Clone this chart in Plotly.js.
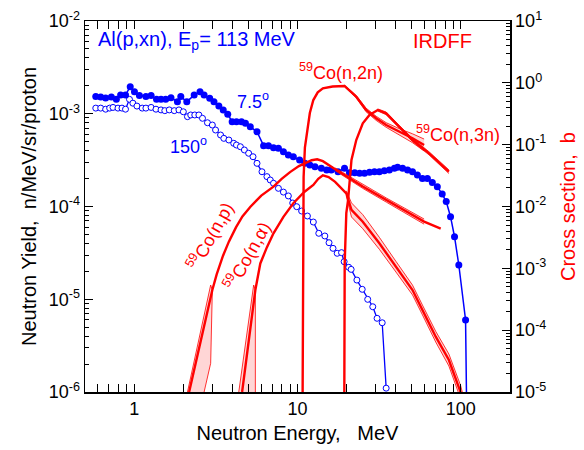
<!DOCTYPE html>
<html><head><meta charset="utf-8">
<script src="https://cdn.plot.ly/plotly-3.0.1.min.js"></script>
<style>html,body{margin:0;padding:0;background:#fff}</style>
</head><body><div id="chart" style="width:584px;height:450px"></div>
<script>
// Al(p,xn), Ep = 113 MeV, 7.5 deg (filled) : energy (MeV), yield (n/MeV/sr/proton)
const e75 = [0.582,0.624,0.669,0.725,0.778,0.826,0.885,0.946,1.004,1.077,1.18,1.27,1.37,1.46,1.56,1.68,1.84,1.93,2.10,2.33,2.53,2.68,2.90,3.08,3.30,3.51,3.74,3.98,4.23,4.54,4.80,5.14,5.65,6.20,6.64,7.13,7.64,8.20,8.79,9.43,10.3,11.1,11.9,12.8,14.0,15.1,16.1,17.7,19.4,20.8,22.4,24.0,25.7,27.6,29.6,31.7,34.0,36.5,39.2,41.0,44.0,47.2,50.6,54.2,58.2,62.4,66.9,71.8,76.9,81.4,86.5,91.5,97.2,106.9,110];
const y75 = [1.53e-3,1.52e-3,1.48e-3,1.52e-3,1.43e-3,1.59e-3,1.59e-3,1.96e-3,1.73e-3,1.57e-3,1.53e-3,1.57e-3,1.43e-3,1.43e-3,1.43e-3,1.49e-3,1.35e-3,1.53e-3,1.35e-3,1.59e-3,1.73e-3,1.59e-3,1.47e-3,1.35e-3,1.21e-3,1.10e-3,9.87e-4,8.2e-4,8.2e-4,8.2e-4,7.89e-4,7.25e-4,6.4e-4,4.53e-4,4.53e-4,4.31e-4,4.24e-4,3.90e-4,3.59e-4,3.44e-4,3.17e-4,2.92e-4,2.80e-4,2.69e-4,2.58e-4,2.47e-4,2.47e-4,2.37e-4,2.58e-4,2.31e-4,2.31e-4,2.28e-4,2.28e-4,2.34e-4,2.37e-4,2.37e-4,2.43e-4,2.47e-4,2.58e-4,2.65e-4,2.58e-4,2.47e-4,2.37e-4,2.19e-4,2.01e-4,2.01e-4,1.82e-4,1.63e-4,1.36e-4,1.13e-4,7.76e-5,4.72e-5,2.34e-5,5.97e-6,1e-7];
// 150 deg (open)
const e150 = [0.582,0.624,0.669,0.708,0.742,0.796,0.842,0.885,0.936,0.982,1.04,1.12,1.18,1.27,1.36,1.46,1.54,1.64,1.76,1.88,2.00,2.12,2.22,2.35,2.49,2.62,2.81,3.01,3.15,3.38,3.54,3.80,4.07,4.23,4.47,4.73,5.02,5.34,5.65,6.06,6.50,6.81,7.13,7.64,8.20,8.79,9.35,9.89,10.6,11.5,12.5,13.5,14.7,15.6,16.5,17.5,18.6,19.3,20.6,21.3,23.1,24.9,26.9,28.9,30.7,33.0,34.9];
const y150 = [1.15e-3,1.15e-3,1.12e-3,1.15e-3,1.17e-3,1.15e-3,1.15e-3,1.12e-3,1.43e-3,1.30e-3,1.21e-3,1.15e-3,1.15e-3,1.17e-3,1.12e-3,1.10e-3,1.08e-3,1.10e-3,1.08e-3,1.10e-3,1.05e-3,9.3e-4,9.7e-4,9.7e-4,9.7e-4,8.93e-4,8.0e-4,7.56e-4,6.68e-4,5.90e-4,5.43e-4,5.21e-4,4.80e-4,4.60e-4,4.41e-4,4.07e-4,3.75e-4,3.44e-4,2.92e-4,2.37e-4,2.10e-4,1.93e-4,1.78e-4,1.57e-4,1.43e-4,1.30e-4,1.09e-4,9.95e-5,8.94e-5,7.9e-5,6.8e-5,5.14e-5,4.81e-5,4.07e-5,3.54e-5,3.13e-5,3.18e-5,2.54e-5,2.21e-5,2.10e-5,1.61e-5,1.28e-5,9.98e-6,8.3e-6,6.23e-6,5.58e-6,1.10e-6];

// IRDFF cross sections (b); U = relative uncertainty (0 = no band drawn)
const n2nE = [10.75,10.8,10.9,11.1,11.4,11.9,12.5,13.3,14.3,16.4,19.4,22.9,26.3,30.3,34.9,42.0,50.6,59.6];
const n2nS = [1e-5,3e-3,0.03,0.09,0.153,0.325,0.527,0.70,0.815,0.873,0.89,0.597,0.364,0.267,0.208,0.162,0.127,0.0986];
const n2nU = [0,0,0,0,0,0,0,0,0,0,0.03,0.05,0.07,0.08,0.09,0.12,0.18,0.25];

const n3nE = [19.35,19.45,19.9,20.4,21.4,22.9,25.1,27.6,31.0,34.9,42.0,50.6,63.9,84.5];
const n3nS = [1e-5,1.2e-3,7.8e-3,0.0127,0.0565,0.119,0.221,0.302,0.364,0.321,0.195,0.119,0.0724,0.0366];
const n3nU = [0,0,0,0,0,0,0,0,0.04,0.05,0.05,0.06,0.06,0.07];

const npE = [2.17,2.55,3.01,3.2,3.5,3.8,4.2,4.6,5.15,6.0,7.13,8.0,9.0,10.2,11.4,12.2,13.2,14.3,17.0,19.9,25.1,35.0,45.0,59.6,75.3];
const npS = [1e-5,6.5e-5,4.46e-4,8.0e-4,1.6e-3,2.7e-3,4.6e-3,6.9e-3,9.9e-3,1.5e-2,0.0209,0.028,0.036,0.045,0.0519,0.056,0.058,0.054,0.040,0.031,0.021,0.0127,8.7e-3,5.7e-3,4.4e-3];
const npU = [0,0,0,0,0,0,0,0,0,0,0,0,0,0,0,0,0,0,0.05,0.06,0.07,0.08,0.09,0.10,0];
const npThrE = [2.12,2.94,3.01,2.94,2.68];
const npThrS = [1e-5,5.37e-4,4.46e-4,2.91e-5,1e-5];

const naE = [4.58,5.02,5.52,5.92,6.5,7.13,8.2,9.43,11.0,12.5,13.4,14.3,15.5,17.0,19.9,21.4,25.1,31.7,40.1,50.6,58.2,70.2,84.5,99.6,103];
const naS = [1e-5,6.7e-5,4.46e-4,1.2e-3,2.2e-3,3.68e-3,6.8e-3,0.0113,0.0172,0.0223,0.028,0.032,0.030,0.025,0.0163,0.0088,5.68e-3,2.54e-3,1.06e-3,4.46e-4,2.12e-4,7.84e-5,3.29e-5,1e-5,7e-6];
const naU = [0,0,0,0,0,0,0,0,0,0,0,0,0,0,0.1,0.3,0.3,0.25,0.22,0.2,0.2,0.22,0.25,0.28,0.3];
const naThrE = [4.37,5.39,5.52,5.52];
const naThrS = [1e-5,5.37e-4,4.46e-4,1e-5];

// tick labels
const xTickVals = [1,10,100], xTickText = ['1','10','100'];
const yTickVals = [1e-6,1e-5,1e-4,1e-3,1e-2];
const yTickText = ['10<sup>-6</sup>','10<sup>-5</sup>','10<sup>-4</sup>','10<sup>-3</sup>','10<sup>-2</sup>'];
const y2TickVals = [1e-5,1e-4,1e-3,1e-2,1e-1,1,10];
const y2TickText = ['10<sup>-5</sup>','10<sup>-4</sup>','10<sup>-3</sup>','10<sup>-2</sup>','10<sup>-1</sup>','10<sup>0</sup>','10<sup>1</sup>'];

const RED = '#ff0000', BLUE = '#0000ff', PINK = 'rgba(255,0,0,0.16)';
const traces = [];
traces.push({x:e150, y:y150, mode:'lines+markers', line:{color:BLUE, width:1.3},
  marker:{symbol:'circle', size:6, color:'#ffffff', line:{color:BLUE, width:1}}, yaxis:'y', hoverinfo:'skip'});
traces.push({x:e75, y:y75, mode:'lines+markers', line:{color:BLUE, width:1.5},
  marker:{symbol:'circle', size:7, color:BLUE}, yaxis:'y', hoverinfo:'skip'});

function band(E, S, U) {
  const bx = [], lo = [], hi = [];
  for (let i = 0; i < E.length; i++) if (U[i] > 0) { bx.push(E[i]); lo.push(S[i]/(1+U[i])); hi.push(S[i]*(1+U[i])); }
  traces.push({x:bx, y:lo, mode:'lines', line:{color:RED, width:0.8}, yaxis:'y2', hoverinfo:'skip'});
  traces.push({x:bx, y:hi, mode:'lines', fill:'tonexty', fillcolor:PINK, line:{color:RED, width:0.8}, yaxis:'y2', hoverinfo:'skip'});
}
function poly(E, S) {
  traces.push({x:E, y:S, mode:'lines', fill:'toself', fillcolor:PINK, line:{color:RED, width:0.8}, yaxis:'y2', hoverinfo:'skip'});
}
function main(E, S) {
  traces.push({x:E, y:S, mode:'lines', line:{color:RED, width:2.4}, yaxis:'y2', hoverinfo:'skip'});
}
poly(npThrE, npThrS); poly(naThrE, naThrS);
band(n2nE, n2nS, n2nU); band(n3nE, n3nS, n3nU); band(npE, npS, npU); band(naE, naS, naU);
main(n2nE, n2nS); main(n3nE, n3nS); main(npE, npS); main(naE, naS);

function minorVals(a, b) { const v = []; for (let d = a; d <= b; d++) for (let k = 2; k <= 9; k++) v.push(k*Math.pow(10, d)); return v; }
const FONT = 'Arial, "Liberation Sans", sans-serif';
const ax = {showline:true, linecolor:'#000', linewidth:1.5, ticks:'inside', ticklen:8, tickwidth:1, tickcolor:'#000',
  showgrid:false, zeroline:false, tickfont:{family:FONT, size:18, color:'#000'}, tickmode:'array'};
const layout = {
  width:584, height:450, margin:{l:85, r:74, t:21, b:58}, showlegend:false,
  paper_bgcolor:'#fff', plot_bgcolor:'#fff', font:{family:FONT},
  xaxis:Object.assign({}, ax, {type:'log', range:[Math.log10(0.5), Math.log10(200)], mirror:'allticks',
    tickvals:xTickVals, ticktext:xTickText,
    minor:{tickmode:'array', tickvals:minorVals(-1,2), ticks:'inside', ticklen:4, tickcolor:'#000', showgrid:false},
    title:{text:'Neutron Energy,\u00a0\u00a0\u00a0MeV', font:{family:FONT, size:20, color:'#000'}, standoff:8}}),
  yaxis:Object.assign({}, ax, {type:'log', range:[-6,-2], tickvals:yTickVals, ticktext:yTickText,
    minor:{tickmode:'array', tickvals:minorVals(-6,-3), ticks:'inside', ticklen:4, tickcolor:'#000', showgrid:false},
    title:{text:'Neutron Yield,\u00a0\u00a0n/MeV/sr/proton', font:{family:FONT, size:20, color:'#000'}, standoff:6}}),
  yaxis2:Object.assign({}, ax, {type:'log', range:[-5,1], tickvals:y2TickVals, ticktext:y2TickText, overlaying:'y', side:'right', anchor:'x',
    minor:{tickmode:'array', tickvals:minorVals(-5,0), ticks:'inside', ticklen:4, tickcolor:'#000', showgrid:false},
    title:{text:'Cross section,\u00a0\u00a0b', font:{family:FONT, size:20, color:RED}, standoff:15}}),
  annotations:[
    {text:'Al(p,xn), E<sub>p</sub>= 113 MeV', xref:'paper', yref:'paper', x:0.026, y:0.948, xanchor:'left', yanchor:'middle', showarrow:false, font:{family:FONT, size:20, color:BLUE}},
    {text:'7.5<sup>o</sup>', xref:'paper', yref:'paper', x:0.354, y:0.786, xanchor:'left', yanchor:'middle', showarrow:false, font:{family:FONT, size:18, color:BLUE}},
    {text:'150<sup>o</sup>', xref:'paper', yref:'paper', x:0.196, y:0.664, xanchor:'left', yanchor:'middle', showarrow:false, font:{family:FONT, size:18, color:BLUE}},
    {text:'IRDFF', xref:'paper', yref:'paper', x:0.766, y:0.946, xanchor:'left', yanchor:'middle', showarrow:false, font:{family:FONT, size:20, color:RED}},
    {text:'<sup>59</sup>Co(n,2n)', xref:'paper', yref:'paper', x:0.499, y:0.864, xanchor:'left', yanchor:'middle', showarrow:false, font:{family:FONT, size:18, color:RED}},
    {text:'<sup>59</sup>Co(n,3n)', xref:'paper', yref:'paper', x:0.774, y:0.698, xanchor:'left', yanchor:'middle', showarrow:false, font:{family:FONT, size:18, color:RED}},
    {text:'<sup>59</sup>Co(n,p)', xref:'paper', yref:'paper', x:0.293, y:0.42, xanchor:'center', yanchor:'middle', textangle:-61, showarrow:false, font:{family:FONT, size:18, color:RED}},
    {text:'<sup>59</sup>Co(n,\u03b1)', xref:'paper', yref:'paper', x:0.38, y:0.366, xanchor:'center', yanchor:'middle', textangle:-61, showarrow:false, font:{family:FONT, size:18, color:RED}}
  ]
};
Plotly.newPlot('chart', traces, layout, {staticPlot:true, displayModeBar:false});
</script></body></html>
